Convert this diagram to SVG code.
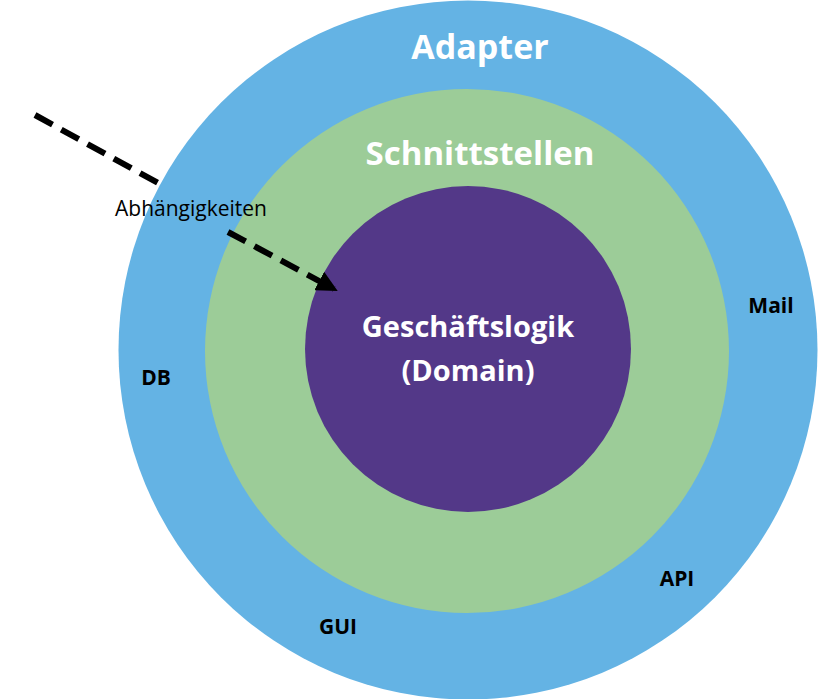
<svg xmlns="http://www.w3.org/2000/svg" width="819" height="699" viewBox="0 0 819 699">
<style>
.b{font-family:"Open Sans","Liberation Sans",sans-serif;font-weight:bold}
.d{stroke:#000;stroke-width:6;stroke-dasharray:20 10;fill:none}
</style>
<defs><marker id="ah" viewBox="0 0 10 10" refX="8" refY="5" markerWidth="3.5" markerHeight="3.5" orient="auto"><path d="M0,0L10,5L0,10z" fill="#000"/></marker></defs>
<rect width="819" height="699" fill="#fff"/>
<g id="adapter"><circle cx="468" cy="350" r="349.5" fill="#64b3e4"/><text class="b" x="480" y="59" font-size="34" fill="#fff" text-anchor="middle">Adapter</text>
<text class="b" x="771" y="313" font-size="21" text-anchor="middle">Mail</text>
<text class="b" x="156" y="385" font-size="21" text-anchor="middle">DB</text>
<text class="b" x="677" y="586" font-size="21" text-anchor="middle">API</text>
<text class="b" x="338" y="634" font-size="21" text-anchor="middle">GUI</text></g>
<g id="schnittstellen"><circle cx="467" cy="351" r="262" fill="#9ccc98"/><text class="b" x="480" y="165" font-size="33" fill="#fff" text-anchor="middle">Schnittstellen</text></g>
<g id="domain"><circle cx="468" cy="349" r="163" fill="#533888"/><text class="b" x="468" y="337" font-size="29" fill="#fff" text-anchor="middle">Geschäftslogik</text><text class="b" x="468" y="381" font-size="29" fill="#fff" text-anchor="middle">(Domain)</text></g>
<g id="connectors"><path class="d" d="M35,115L158,183"/><path class="d" d="M228,232L334,289" marker-end="url(#ah)"/>
<text x="191" y="216" font-family="Open Sans,Liberation Sans,sans-serif" font-size="21" text-anchor="middle">Abhängigkeiten</text></g>
</svg>
